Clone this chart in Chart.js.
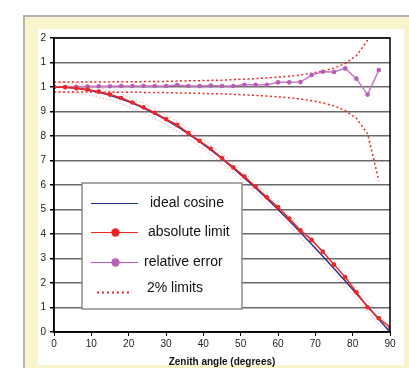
<!DOCTYPE html>
<html>
<head>
<meta charset="utf-8">
<script src="https://cdn.jsdelivr.net/npm/chart.js@4/dist/chart.umd.min.js"></script>
<style>
    body { margin: 0; background: #fff; }
    .frame { position: absolute; left: 23px; top: 15px; width: 400px; height: 360px;
             background: #f8f5cc; border: 2px solid #b4b4b4; box-sizing: border-box; }
    .panel { position: absolute; left: 38px; top: 29px; width: 366px; height: 336px; background: #fff; }
    #wrap { position: absolute; left: 0; top: 0; width: 409px; height: 368px; }
</style>
</head>
<body>
<div class="frame"></div>
<div class="panel"></div>
<div id="wrap"><canvas id="cosChart"></canvas></div>
<script>
// Zenith angles (degrees)
const angles = [0, 3, 6, 9, 12, 15, 18, 21, 24, 27, 30, 33, 36, 39, 42, 45,
    48, 51, 54, 57, 60, 63, 66, 69, 72, 75, 78, 81, 84, 87, 90];

const idealCosine = [1.000, 0.999, 0.995, 0.988, 0.978, 0.966, 0.951, 0.934, 0.914, 0.891,
    0.866, 0.839, 0.809, 0.777, 0.743, 0.707, 0.669, 0.629, 0.588, 0.545,
    0.500, 0.454, 0.407, 0.358, 0.309, 0.259, 0.208, 0.156, 0.105, 0.052, 0.000];

const absoluteLimit = [1.000, 0.999, 0.995, 0.990, 0.981, 0.969, 0.955, 0.937, 0.917, 0.895,
    0.869, 0.845, 0.812, 0.780, 0.748, 0.710, 0.672, 0.635, 0.593, 0.550,
    0.510, 0.463, 0.415, 0.376, 0.328, 0.275, 0.224, 0.162, 0.101, 0.056, 0.020];

// relative error only goes to 87 deg
const relativeError = [1.000, 1.000, 1.001, 1.002, 1.003, 1.003, 1.004, 1.004, 1.004, 1.004,
    1.004, 1.008, 1.004, 1.004, 1.006, 1.004, 1.004, 1.009, 1.009, 1.009,
    1.019, 1.019, 1.020, 1.049, 1.062, 1.061, 1.076, 1.034, 0.969, 1.069];

const relUpper = [1.020, 1.020, 1.020, 1.020, 1.020, 1.021, 1.021, 1.021, 1.022, 1.022,
    1.023, 1.024, 1.025, 1.026, 1.027, 1.028, 1.030, 1.032, 1.034, 1.037,
    1.040, 1.044, 1.049, 1.056, 1.065, 1.077, 1.096, 1.128, 1.191, 1.382];
const relLower = [0.980, 0.980, 0.980, 0.980, 0.980, 0.979, 0.979, 0.979, 0.978, 0.978,
    0.977, 0.976, 0.975, 0.974, 0.973, 0.972, 0.970, 0.968, 0.966, 0.963,
    0.960, 0.956, 0.951, 0.944, 0.935, 0.923, 0.904, 0.872, 0.809, 0.618];

const absUpper = [1.020, 1.019, 1.015, 1.008, 0.998, 0.986, 0.971, 0.954, 0.934, 0.911,
    0.886, 0.859, 0.829, 0.797, 0.763, 0.727, 0.689, 0.649, 0.608, 0.565,
    0.520, 0.474, 0.427, 0.378, 0.329, 0.279, 0.228, 0.176, 0.125, 0.072, 0.020];
const absLower = [0.980, 0.979, 0.975, 0.968, 0.958, 0.946, 0.931, 0.914, 0.894, 0.871,
    0.846, 0.819, 0.789, 0.757, 0.723, 0.687, 0.649, 0.609, 0.568, 0.525,
    0.480, 0.434, 0.387, 0.338, 0.289, 0.239, 0.188, 0.136, 0.085, 0.032, -0.020];

// y tick labels as they appear (truncated in the original)
const yTickLabels = ['0', '1', '2', '3', '4', '5', '6', '7', '8', '9', '1', '1', '2'];
const legendLabels = ['ideal cosine', 'absolute limit', 'relative error', '2% limits'];

const RED = '#f42424';
const BLUE = '#23348c';
const PURPLE = '#bb5cb5';

const pts = arr => arr.map((v, i) => ({ x: angles[i], y: v }));

const dotted = (data, color, width, dash) => ({
    data: pts(data),
    borderColor: color,
    borderWidth: width,
    borderDash: dash,
    pointRadius: 0,
    fill: false,
    order: 5
});

// Plot frame (top & right sides)
const frameBox = {
    id: 'frameBox',
    afterDatasetsDraw(chart) {
        const { ctx, chartArea: a } = chart;
        ctx.save();
        ctx.strokeStyle = '#000';
        ctx.lineWidth = 1.5;
        ctx.strokeRect(a.left, a.top, a.right - a.left, a.bottom - a.top);
        ctx.restore();
    }
};

// Legend box sitting inside the plot
const boxLegend = {
    id: 'boxLegend',
    afterDraw(chart) {
        const ctx = chart.ctx;
        ctx.save();
        ctx.fillStyle = '#fff';
        ctx.fillRect(82, 183, 160, 126);
        ctx.strokeStyle = '#8c8c8c';
        ctx.lineWidth = 1.5;
        ctx.strokeRect(82, 183, 160, 126);

        const rows = [
            { y: 203.5, color: BLUE, marker: false, dash: [], tx: 150 },
            { y: 232.5, color: RED, marker: true, dash: [], tx: 148 },
            { y: 262.5, color: PURPLE, marker: true, dash: [], tx: 144 },
            { y: 292.5, color: RED, marker: false, dash: [2, 3], tx: 147 }
        ];
        rows.forEach((r, i) => {
            ctx.strokeStyle = r.color;
            ctx.lineWidth = i === 3 ? 2 : 1;
            ctx.setLineDash(r.dash);
            ctx.beginPath();
            if (i === 3) { ctx.moveTo(97, r.y); ctx.lineTo(132, r.y); }
            else { ctx.moveTo(91, r.y); ctx.lineTo(138, r.y); }
            ctx.stroke();
            ctx.setLineDash([]);
            if (r.marker) {
                ctx.fillStyle = r.color;
                ctx.beginPath();
                ctx.arc(115.5, r.y, 4.2, 0, Math.PI * 2);
                ctx.fill();
            }
            ctx.fillStyle = '#111';
            ctx.font = '14px "Liberation Sans", Arial, sans-serif';
            ctx.textBaseline = 'middle';
            ctx.fillText(legendLabels[i], r.tx, i === 3 ? r.y - 4 : r.y);
        });
        ctx.restore();
    }
};

const ctx = document.getElementById('cosChart').getContext('2d');
new Chart(ctx, {
    type: 'line',
    data: {
        datasets: [
            {
                data: pts(absoluteLimit),
                borderColor: RED,
                backgroundColor: RED,
                borderWidth: 1.5,
                pointRadius: 2.3,
                pointBorderWidth: 0,
                order: 1
            },
            {
                data: pts(relativeError),
                borderColor: '#c77ac2',
                backgroundColor: PURPLE,
                borderWidth: 1.5,
                pointRadius: 2.3,
                pointBorderWidth: 0,
                order: 2
            },
            {
                data: pts(idealCosine),
                borderColor: BLUE,
                borderWidth: 1.5,
                pointRadius: 0,
                order: 3
            },
            dotted(relUpper, RED, 1.5, [2, 2.5]),
            dotted(relLower, RED, 1.5, [2, 2.5]),
            dotted(absUpper, 'rgba(244,60,60,0.45)', 1, [1.5, 2]),
            dotted(absLower, 'rgba(244,60,60,0.45)', 1, [1.5, 2])
        ]
    },
    options: {
        responsive: true,
        maintainAspectRatio: false,
        animation: false,
        events: [],
        layout: { padding: { left: 0, top: 38, right: 19, bottom: 0 } },
        plugins: {
            legend: { display: false },
            tooltip: { enabled: false }
        },
        scales: {
            x: {
                type: 'linear',
                min: 0,
                max: 90,
                ticks: {
                    stepSize: 10,
                    color: '#222',
                    padding: 2,
                    font: { size: 10, family: '"Liberation Sans", Arial, sans-serif' }
                },
                grid: { drawOnChartArea: false, tickLength: 4, tickColor: '#000', tickWidth: 1 },
                border: { color: '#000', width: 1.5 },
                title: {
                    display: true,
                    text: 'Zenith angle (degrees)',
                    color: '#111',
                    padding: { top: 0, bottom: 0 },
                    font: { size: 10, weight: 'bold', family: '"Liberation Sans", Arial, sans-serif' }
                },
                afterFit: scale => { scale.height = 36; }
            },
            y: {
                min: 0,
                max: 1.2,
                ticks: {
                    stepSize: 0.1,
                    color: '#222',
                    padding: 4,
                    font: { size: 10, family: '"Liberation Sans", Arial, sans-serif' },
                    callback: (value, index) => yTickLabels[index]
                },
                grid: { color: '#6a6a6a', lineWidth: 1.5, tickLength: 4, tickColor: '#000' },
                border: { color: '#000', width: 1.5 },
                afterFit: scale => { scale.width = 54; }
            }
        }
    },
    plugins: [frameBox, boxLegend]
});
</script>
</body>
</html>
